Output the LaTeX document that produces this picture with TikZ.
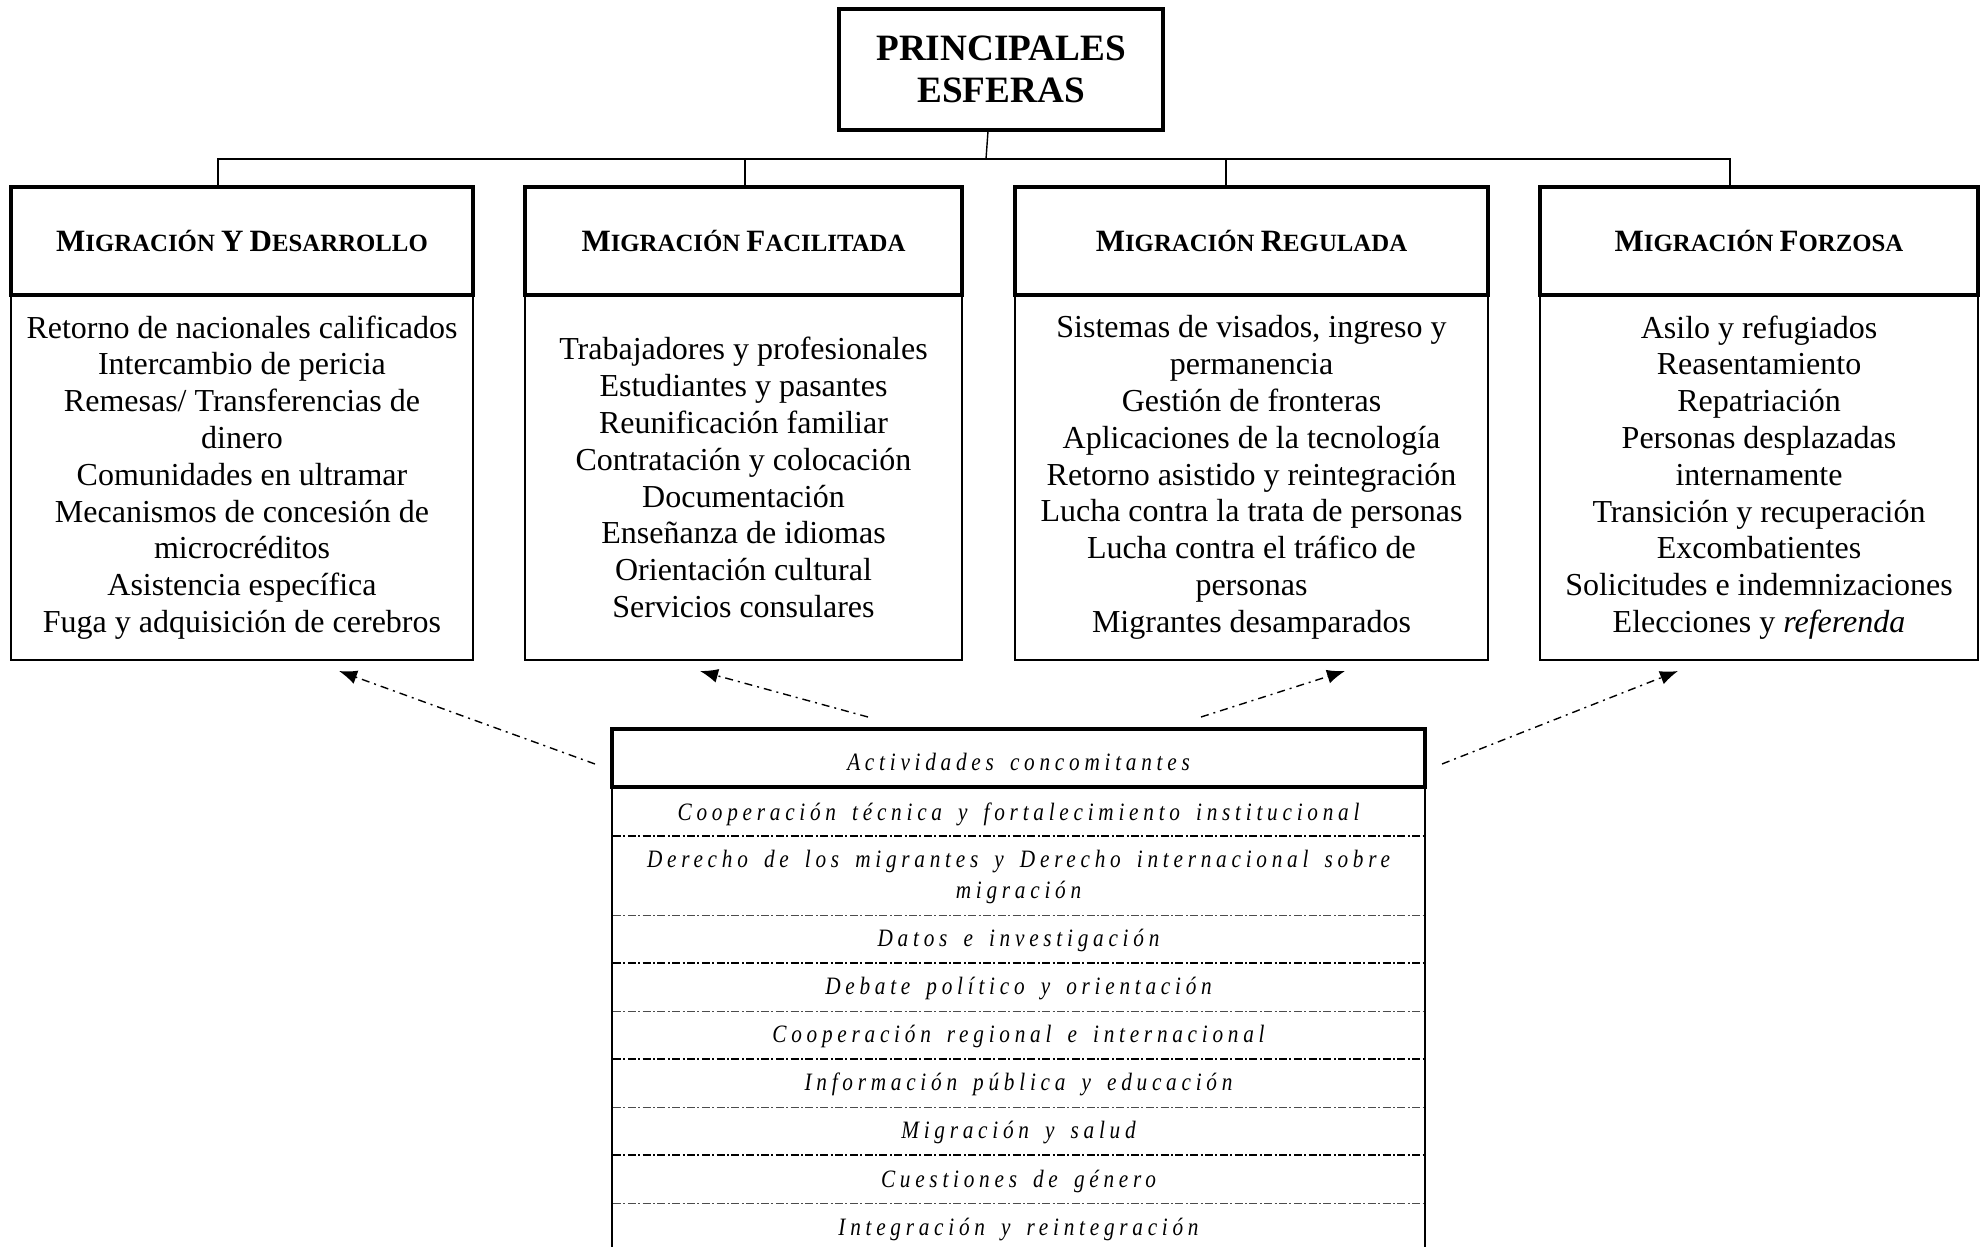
\documentclass[tikz,border=0pt]{standalone}
\usepackage{fontspec}
\setmainfont{Liberation Serif}
\newfontfamily\actfont[LetterSpace=19, WordSpace=1.6, FakeStretch=0.85]{Liberation Serif}
\usetikzlibrary{arrows.meta}
\newcommand\BC[1]{{\fontsize{15.5pt}{18pt}\selectfont #1}}
\tikzset{
  thickbox/.style={draw, line width=1.6pt, inner sep=0pt, align=center},
  hdr/.style={thickbox, font=\bfseries\fontsize{12.4pt}{15pt}\selectfont, minimum height=54pt},
  bodybox/.style={draw, line width=0.7pt, inner sep=0pt, align=center, minimum height=182.5pt,
    font=\fontsize{16pt}{18.4pt}\selectfont},
  bus/.style={line width=0.7pt},
  actrow/.style={inner sep=0pt, align=center, font=\actfont\itshape\fontsize{12.5pt}{15.2pt}\selectfont},
  heavysep/.style={line width=0.8pt, dash pattern=on 4pt off 1.2pt on 1pt off 1.2pt},
  lightsep/.style={line width=0.4pt, black!70, dash pattern=on 4pt off 1.2pt on 1pt off 1.2pt},
  ddarrow/.style={line width=0.7pt, dash pattern=on 4pt off 2.5pt on 1pt off 2.5pt,
    -{Latex[length=9pt,width=7pt]}}
}
\begin{document}
\begin{tikzpicture}[x=0.5pt,y=-0.5pt]
\useasboundingbox (0,0) rectangle (1984,1247);
% top
\node[thickbox, line width=2pt, minimum width=162pt, minimum height=60.5pt,
  font=\bfseries\fontsize{18.6pt}{21pt}\selectfont] (top) at (1001,69.5) {PRINCIPALES\\ESFERAS};
% headers
\node[hdr, minimum width=231pt] (h1) at (242,241) {\BC{M}IGRACIÓN \BC{Y} \BC{D}ESARROLLO};
\node[hdr, minimum width=218.5pt] (h2) at (743.5,241) {\BC{M}IGRACIÓN \BC{F}ACILITADA};
\node[hdr, minimum width=236.5pt] (h3) at (1251.5,241) {\BC{M}IGRACIÓN \BC{R}EGULADA};
\node[hdr, minimum width=219pt] (h4) at (1759,241) {\BC{M}IGRACIÓN \BC{F}ORZOSA};
% bodies
\node[bodybox, minimum width=231pt] (b1) at (242,477.5) {Retorno de nacionales calificados\\Intercambio de pericia\\Remesas/ Transferencias de\\dinero\\Comunidades en ultramar\\Mecanismos de concesión de\\microcréditos\\Asistencia específica\\Fuga y adquisición de cerebros};
\node[bodybox, minimum width=218.5pt] (b2) at (743.5,477.5) {Trabajadores y profesionales\\Estudiantes y pasantes\\Reunificación familiar\\Contratación y colocación\\Documentación\\Enseñanza de idiomas\\Orientación cultural\\Servicios consulares};
\node[bodybox, minimum width=236.5pt] (b3) at (1251.5,477.5) {Sistemas de visados, ingreso y\\permanencia\\Gestión de fronteras\\Aplicaciones de la tecnología\\Retorno asistido y reintegración\\Lucha contra la trata de personas\\Lucha contra el tráfico de\\personas\\Migrantes desamparados};
\node[bodybox, minimum width=219pt] (b4) at (1759,477.5) {Asilo y refugiados\\Reasentamiento\\Repatriación\\Personas desplazadas\\internamente\\Transición y recuperación\\Excombatientes\\Solicitudes e indemnizaciones\\Elecciones y \textit{referenda}};
% bus connectors
\coordinate (s1) at (988,131);
\coordinate (s2) at (986,159);
\draw[bus] (s1) -- (s2);
\draw[bus] (h1.north -| 218,0) -- (218,159) -- (1730,159) -- (h4.north -| 1730,0);
\draw[bus] (745,159) -- (h2.north -| 745,0);
\draw[bus] (1226,159) -- (h3.north -| 1226,0);
% activities box
\node[thickbox, minimum width=406.5pt, minimum height=29pt] (act) at (1018.5,758) {};
\node[actrow] (acth) at (1018.5,762) {Actividades concomitantes};
\draw[line width=0.7pt] (612,787) -- (612,1247);
\draw[line width=0.7pt] (1425,787) -- (1425,1247);
\node[actrow] (r1) at (1018.5,814) {Cooperación técnica y fortalecimiento institucional};
\node[actrow] (r2) at (1018.5,877) {Derecho de los migrantes y Derecho internacional sobre\\migración};
\node[actrow] (r3) at (1018.5,940) {Datos e investigación};
\node[actrow] (r4) at (1018.5,988) {Debate político y orientación};
\node[actrow] (r5) at (1018.5,1036) {Cooperación regional e internacional};
\node[actrow] (r6) at (1018.5,1084) {Información pública y educación};
\node[actrow] (r7) at (1018.5,1132) {Migración y salud};
\node[actrow] (r8) at (1018.5,1181) {Cuestiones de género};
\node[actrow] (r9) at (1018.5,1229) {Integración y reintegración};
\draw[heavysep] (613,836) -- (1424,836);
\draw[lightsep] (613,915) -- (1424,915);
\draw[heavysep] (613,963) -- (1424,963);
\draw[lightsep] (613,1011) -- (1424,1011);
\draw[heavysep] (613,1059) -- (1424,1059);
\draw[lightsep] (613,1107) -- (1424,1107);
\draw[heavysep] (613,1155) -- (1424,1155);
\draw[lightsep] (613,1203) -- (1424,1203);
% arrows
\coordinate (a1s) at (595,764); \coordinate (a1e) at (339,671);
\coordinate (a2s) at (868,717); \coordinate (a2e) at (700,671);
\coordinate (a3s) at (1201,717); \coordinate (a3e) at (1345,671);
\coordinate (a4s) at (1442,764); \coordinate (a4e) at (1678,671);
\draw[ddarrow] (a1s) -- (a1e);
\draw[ddarrow] (a2s) -- (a2e);
\draw[ddarrow] (a3s) -- (a3e);
\draw[ddarrow] (a4s) -- (a4e);
\end{tikzpicture}
\end{document}
